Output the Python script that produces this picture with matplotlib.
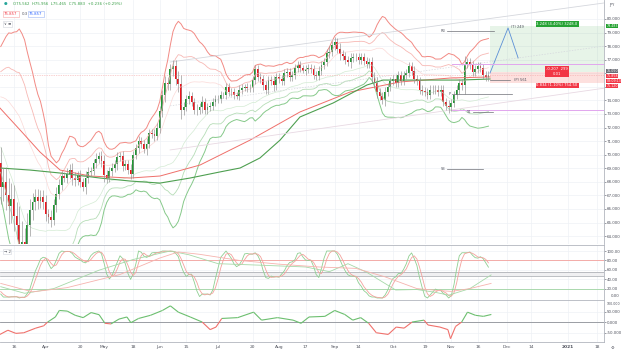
import numpy as np
import pandas as pd
import matplotlib.pyplot as plt
from matplotlib.collections import LineCollection
from matplotlib.patches import Rectangle

# AUD/JPY daily candles, 2020-03-09 .. 2020-11-20 (bar 0 = Mar 16)
# warm-up closes (Feb 7 - Mar 6), only used for the bands / stochastic
pre_closes = [73.6, 73.5, 73.9, 74.3, 74.1, 73.9, 73.9, 73.7, 74.3, 74.3,
              73.8, 72.6, 72.0, 72.1, 71.3, 70.3, 71.0, 70.9, 71.3, 69.4]

closes = (
    [67.6, 68.0, 67.0, 66.2, 66.7]                                       # Mar 9-13
    + [65.5, 64.8, 63.2, 63.6, 62.9, 64.8, 65.9, 66.5, 66.9, 66.6, 66.9, 66.5]  # Mar
    + [65.6, 65.4, 65.2, 66.3, 67.1, 67.8, 68.4, 68.3, 68.6, 68.9, 68.3,
       68.1, 68.5, 68.0, 67.6, 68.3, 68.7, 68.8, 69.4, 69.7, 69.9, 69.5]  # Apr
    + [68.5, 68.3, 68.8, 69.0, 69.3, 69.8, 69.9, 69.2, 69.3, 68.9, 68.6,
       70.0, 70.5, 71.0, 70.8, 70.4, 70.8, 71.6, 71.5, 71.4, 72.0]        # May
    + [73.2, 74.4, 75.3, 75.2, 76.3, 76.5, 75.6, 75.2, 73.3, 73.5, 74.1,
       74.3, 73.9, 73.3, 73.3, 73.5, 73.9, 73.3, 73.5, 73.6, 73.9, 74.1]  # Jun
    + [74.1, 74.4, 74.4, 75.0, 74.6, 74.6, 74.4, 74.3, 74.8, 74.9, 75.0, 74.9,
       74.9, 75.5, 76.3, 75.7, 75.6, 75.1, 74.8, 75.5, 75.4, 75.1, 75.7]  # Jul
    + [75.6, 75.4, 76.0, 76.1, 75.7, 75.9, 76.4, 76.6, 76.4, 76.2, 76.3,
       76.4, 76.3, 75.9, 75.8, 76.2, 76.6, 76.8, 77.5, 77.6, 78.1]        # Aug
    + [78.3, 77.8, 77.4, 77.3, 77.0, 76.8, 77.1, 77.2, 77.2, 77.0, 77.2,
       76.9, 76.7, 76.8, 75.7, 75.3, 74.6, 74.3, 74.0, 74.6, 75.0, 75.4]  # Sep
    + [75.6, 75.3, 75.9, 75.4, 75.9, 76.0, 76.5, 76.2, 75.6, 75.4, 74.8,
       74.7, 74.6, 74.4, 74.8, 74.8, 74.8, 74.6, 74.8, 73.9, 73.6, 73.5]  # Oct
    + [73.8, 74.4, 74.8, 75.3, 75.1, 76.7, 76.8, 76.6, 76.1, 76.3, 76.5,
       76.4, 75.9, 75.7, 75.86]                                           # Nov
)

wicks = (
    [1.2, 1.0, 1.1, 1.3, 1.2]
    + [1.1, 1.0, 1.4, 1.5, 1.0, 0.9, 0.8, 0.7, 0.6, 0.6, 0.5, 0.5]
    + [0.5, 0.4, 0.5, 0.4, 0.5, 0.4, 0.4, 0.3, 0.4, 0.4, 0.5, 0.4, 0.3, 0.4,
       0.3, 0.5, 0.4, 0.3, 0.3, 0.4, 0.3, 0.4]
    + [0.5, 0.4, 0.3, 0.4, 0.3, 0.4, 0.3, 0.4, 0.3, 0.3, 0.4, 0.3, 0.3, 0.4,
       0.3, 0.3, 0.4, 0.3, 0.3, 0.4, 0.3]
    + [0.4, 0.4, 0.5, 0.4, 0.4, 0.5, 0.5, 0.6, 0.7, 0.4, 0.3, 0.4, 0.3, 0.3,
       0.4, 0.3, 0.4, 0.3, 0.3, 0.3, 0.3, 0.3]
    + [0.3, 0.3, 0.2, 0.3, 0.3, 0.3, 0.3, 0.2, 0.3, 0.3, 0.2, 0.3, 0.3, 0.3,
       0.3, 0.3, 0.3, 0.3, 0.3, 0.3, 0.3, 0.4, 0.3]
    + [0.3, 0.3, 0.3, 0.3, 0.3, 0.3, 0.3, 0.3, 0.3, 0.2, 0.3, 0.3, 0.3, 0.3,
       0.3, 0.3, 0.3, 0.3, 0.3, 0.4, 0.3]
    + [0.4, 0.3, 0.4, 0.3, 0.3, 0.3, 0.4, 0.3, 0.3, 0.3, 0.3, 0.3, 0.3, 0.3,
       0.4, 0.4, 0.4, 0.3, 0.3, 0.4, 0.3, 0.3]
    + [0.3, 0.3, 0.3, 0.3, 0.3, 0.3, 0.3, 0.3, 0.3, 0.3, 0.3, 0.3, 0.3, 0.3,
       0.3, 0.3, 0.3, 0.3, 0.3, 0.3, 0.3, 0.4]
    + [0.3, 0.3, 0.3, 0.3, 0.3, 0.6, 0.3, 0.3, 0.3, 0.3, 0.3, 0.3, 0.3, 0.3, 0.3]
)

# long moving averages (bar index, price)
ma_red_x = [-5.3, 2.3, 9.8, 17.4, 28.7, 43.8, 55.1, 70.2, 89.1, 107.9, 126.8, 145.7, 164.5, 179.6]
ma_red_y = [73.44, 71.82, 70.2, 68.87, 68.43, 68.28, 68.43, 69.24, 71.08, 73.15, 74.62, 75.36, 75.65, 75.73]
ma_grn_x = [-5.3, 6.0, 17.4, 32.5, 43.8, 55.1, 66.4, 77.7, 85.3, 92.8, 100.4, 107.9,
            120.4, 133.2, 139.2, 153.2, 168.3, 179.6]
ma_grn_y = [69.02, 68.87, 68.65, 68.28, 68.06, 67.91, 68.28, 68.73, 69.02, 69.76, 71.08,
            72.78, 73.81, 75.14, 75.5, 75.5, 75.5, 75.58]

# slow stochastic pair
slow_k_x = [-5, 4, 15, 32, 45, 55, 59, 66, 77, 92, 110, 119, 126, 133, 144, 152, 159, 164, 172, 180]
slow_k_y = [24, 10, 20, 59, 82, 95, 100, 92, 73, 70, 66, 56, 73, 55, 17, 18, 12, 6, 20, 49]
slow_d_x = [-5, 7, 20, 40, 55, 62, 70, 85, 100, 115, 129, 140, 152, 160, 165, 172, 180]
slow_d_y = [31, 13, 22, 50, 85, 98, 93, 80, 72, 66, 63, 45, 20, 16, 14, 20, 31]

# momentum oscillator
mom_x = [-5.3, -2.3, 0.7, 3.7, 8.2, 11.2, 12.7, 15.6, 17.1, 20.1, 23.1, 26.1, 29.1, 32.1,
         34.3, 36.6, 39.6, 42.6, 44.1, 47.0, 51.5, 56.0, 59.0, 62.0, 66.5, 71.0, 74.0,
         76.2, 78.4, 84.4, 90.4, 93.4, 99.4, 105.3, 108.3, 111.3, 117.3, 121.0, 124.8,
         127.8, 130.8, 133.8, 136.7, 141.2, 144.2, 147.2, 150.2, 154.7, 156.2, 160.7,
         163.7, 164.7, 166.6, 168.9, 171.1, 174.1, 177.1, 180.1]
mom_y = [-59, -39, -54, -51, -29, -18, 0, 24, 55, 52, 32, 21, 45, 35, -6, -9, 14, 24, -3,
         17, 32, 55, 77, 47, 24, 0, -36, -24, 17, 21, 47, 9, 21, 9, -6, 24, 27, 55, 36, 9,
         21, -6, -51, -59, -24, -29, 0, 9, -14, -24, -36, -79, -21, 0, 47, 32, 27, 36]

tick_pos = [0, 12, 25, 34, 45, 55, 65, 77, 90, 100, 110, 121, 130, 143, 155, 165, 175,
            186, 195, 209, 220]
tick_lbl = ["16", "Apr", "20", "May", "18", "Jun", "15", "Jul", "20", "Aug", "17", "Sep",
            "14", "Oct", "19", "Nov", "16", "Dec", "14", "2021", "18"]

W, H = 621, 354
X0, X1 = -5.28, 222.6
GRID = "#eef1f6"
TXT = "#50535e"
FS = 2.9

fig = plt.figure(figsize=(W / 100, H / 100), dpi=100)
fig.patch.set_facecolor("white")

def box(top, bottom):
    return [0, 1 - bottom / H, 604 / W, (bottom - top) / H]

ax = fig.add_axes(box(0, 244))
ax2 = fig.add_axes(box(245, 300))
ax3 = fig.add_axes(box(300, 342))

allc = pd.Series(pre_closes + closes)
bars = np.arange(len(allc)) - len(pre_closes) - 5
vis = bars >= -5
x = bars[vis]
c = np.array(closes)
o = np.r_[pre_closes[-1], c[:-1]]
hi = np.maximum(o, c) + np.array(wicks)
lo = np.minimum(o, c) - np.array(wicks)

for a in (ax, ax2, ax3):
    a.set_xlim(X0, X1)
    a.set_facecolor("white")
    for s in ("left", "top", "bottom"):
        a.spines[s].set_visible(False)
    a.spines["right"].set_color("#b2b5be")
    a.spines["right"].set_linewidth(0.6)
    a.yaxis.tick_right()
    a.tick_params(axis="y", labelsize=FS, colors=TXT, length=1.2, width=0.4, pad=1.0)
    a.set_xticks(tick_pos)
    a.tick_params(axis="x", length=0)
    a.set_xticklabels([])
    a.grid(True, color=GRID, lw=0.5)
    a.set_axisbelow(True)

# ---------- main price panel ----------
ax.set_ylim(63.42, 81.4)
ax.set_yticks(range(64, 81))
# 75 and 76 sit under the coloured price tags
ax.set_yticklabels(["" if v in (75, 76) else f"{v:.3f}" for v in range(64, 81)])

# bollinger style bands
mid = allc.rolling(20).mean()
sd = allc.rolling(20).std(ddof=0)
for k, col, lw in [(3, "#f28a84", 0.7), (2, "#f7b8b4", 0.6), (1, "#fbd9d7", 0.5)]:
    ax.plot(x, (mid + k * sd)[vis], color=col, lw=lw)
for k, col, lw in [(3, "#86c98a", 0.7), (2, "#b6ddb7", 0.6), (1, "#d3ebd3", 0.5)]:
    ax.plot(x, (mid - k * sd)[vis], color=col, lw=lw)
ax.plot(ma_red_x, ma_red_y, color="#ef6f6a", lw=0.7)
ax.plot(ma_grn_x, ma_grn_y, color="#4e9f50", lw=0.8)

# channel lines
ax.plot([58.9, 222.6], [76.83, 81.18], color="#d5d7dd", lw=0.6)
ax.plot([58.9, 222.6], [70.35, 74.9], color="#e8d9e3", lw=0.6)
ax.plot([58.9, 222.6], [73.6, 78.0], color="#d5d7dd", lw=0.5, ls=(0, (2, 2)))

# last price line
ax.axhline(75.86, color="#f4a3a3", lw=0.5, ls=(0, (1, 1.5)))

# candles
up = c >= o
ax.vlines(x, lo, hi, color="#8f8f8f", lw=0.45)
ax.bar(x[up], (c - o)[up], bottom=o[up], width=0.7, color="#1e9a32", lw=0)
ax.bar(x[~up], (c - o)[~up], bottom=o[~up], width=0.7, color="#f5131c", lw=0)

# long position tool
ax.add_patch(Rectangle((179.6, 76.09), X1 - 179.6, 79.48 - 76.09, color="#4caf50", alpha=0.13, lw=0))
ax.add_patch(Rectangle((179.6, 75.28), X1 - 179.6, 76.09 - 75.28, color="#f44336", alpha=0.16, lw=0))
ax.plot([179.6, 186.4, 190.2], [76.02, 79.34, 77.13], color="#5b8fd6", lw=0.6)

# pivot style levels
ax.plot([165.3, X1], [76.68, 76.68], color="#e1a6ee", lw=0.7)
ax.plot([165.3, X1], [73.29, 73.29], color="#e1a6ee", lw=0.7)
for x0, x1, y, lab in [(163.4, 181.0, 79.12, "R3"), (165.3, 187.9, 74.47, "P"),
                       (173.2, 180.8, 73.15, "S1"), (163.4, 177.0, 68.95, "S3")]:
    ax.plot([x0, x1], [y, y], color="#6d6f76", lw=0.5)
    ax.text(x0 - 0.5, y, lab, fontsize=2.6, color=TXT, ha="right", va="center")
ax.plot([179.6, 187.2], [75.5, 75.5], color="#6d6f76", lw=0.5)
ax.text(188.5, 75.5, "(P) 561", fontsize=2.6, color=TXT, va="center")
ax.text(187.5, 79.38, "(T) 249", fontsize=2.6, color=TXT, va="center")

def tag(a, xx, yy, s, fc):
    a.text(xx, yy, s, fontsize=2.7, color="white", ha="center", va="center",
           bbox=dict(boxstyle="square,pad=0.25", fc=fc, ec="none"))

tag(ax, 204.9, 79.65, "3.248 (4.40%) 3248.0", "#26a334")
tag(ax, 204.9, 76.12, "-0.207  299\n0.01", "#f23645")
tag(ax, 204.9, 75.1, "0.834 (1.10%) 754.50", "#f23645")

# right-axis price tags
for yy, s, fc in [(79.48, "79.483", "#22a12f"), (76.17, "76.050", "#6b6e77"),
                  (75.80, "75.858", "#f23645"), (75.43, "08:09:13", "#f23645"),
                  (75.06, "75.120", "#f23645")]:
    ax.text(1.004, yy, s, transform=ax.get_yaxis_transform(), fontsize=2.3, color="white",
            va="center", ha="left", clip_on=False,
            bbox=dict(boxstyle="square,pad=0.12", fc=fc, ec="none"))

# ---------- stochastic panel ----------
ax2.set_ylim(-4.3, 112.8)
ax2.set_yticks([20, 40, 60, 80, 100])
ax2.set_yticklabels([f"{v:.2f}" for v in [20, 40, 60, 80, 100]])
ax2.text(1.012, 0, "0.00", transform=ax2.get_yaxis_transform(), fontsize=FS,
         color=TXT, va="bottom", ha="left")
ax2.axhline(80, color="#f4a09b", lw=0.6)
ax2.axhline(20, color="#9fd4a1", lw=0.6)
ax2.axhspan(46, 55, color="#f0f0f2", lw=0)
ax2.axhline(46, color="#a3a6ad", lw=0.5)
ax2.axhline(55, color="#a3a6ad", lw=0.5)
lo14 = allc.rolling(14).min()
hi14 = allc.rolling(14).max()
fast_k = (100 * (allc - lo14) / (hi14 - lo14)).rolling(3).mean()
fast_d = fast_k.rolling(3).mean()
ax2.plot(x, fast_k[vis], color="#8fcf92", lw=0.6)
ax2.plot(x, fast_d[vis], color="#f4a29d", lw=0.6)
ax2.plot(slow_k_x, slow_k_y, color="#a6d9a8", lw=0.6)
ax2.plot(slow_d_x, slow_d_y, color="#f6b3ae", lw=0.6)
ax2.text(0.006, 0.86, "\u2192 2", transform=ax2.transAxes, fontsize=2.8, color=TXT,
         bbox=dict(boxstyle="square,pad=0.2", fc="white", ec="#d1d4dc", lw=0.4))

# ---------- momentum panel ----------
ax3.set_ylim(-95, 104.8)
ax3.set_yticks([-50, 0, 50])
ax3.set_yticklabels([f"{v:.3f}" for v in [-50, 0, 50]])
ax3.text(1.005, 97, "100.000", transform=ax3.get_yaxis_transform(), fontsize=2.3,
         color=TXT, va="top", ha="left")
ax3.axhline(0, color="#8d9097", lw=0.6)
pts = np.column_stack([mom_x, mom_y])
segs = np.stack([pts[:-1], pts[1:]], axis=1)
cols = ["#6cbf6f" if (a + b) / 2 >= 0 else "#f0716c" for a, b in zip(mom_y[:-1], mom_y[1:])]
ax3.add_collection(LineCollection(segs, colors=cols, lw=0.8))

ax3.set_xticklabels(tick_lbl)
ax3.tick_params(axis="x", labelsize=FS + 0.3, colors=TXT, pad=2.5)
for lab in ax3.get_xticklabels():
    if lab.get_text() == "2021":
        lab.set_fontweight("bold")

# panel separators
for yy in (244.5, 300, 342):
    fig.add_artist(plt.Line2D([0, 604 / W], [1 - yy / H] * 2, color="#b2b5be", lw=0.6))

# header texts
fig.text(4 / W, 1 - 4 / H, "\u25cf", fontsize=3, color="#26a69a", va="center")
fig.text(13 / W, 1 - 4 / H, "O75.562  H75.956  L75.465  C75.883  +0.236 (+0.29%)",
         fontsize=2.8, color="#3a9f48", va="center")
fig.text(4 / W, 1 - 14 / H, "75.857", fontsize=2.8, color="#f23645", va="center",
         bbox=dict(boxstyle="square,pad=0.3", fc="white", ec="#f7a6a6", lw=0.4))
fig.text(22 / W, 1 - 14 / H, "0.3", fontsize=2.8, color=TXT, va="center")
fig.text(29 / W, 1 - 14 / H, "75.857", fontsize=2.8, color="#2962ff", va="center",
         bbox=dict(boxstyle="square,pad=0.3", fc="white", ec="#9db7f5", lw=0.4))
fig.text(4 / W, 1 - 24 / H, "\u2228 \u2261", fontsize=2.8, color=TXT, va="center",
         bbox=dict(boxstyle="square,pad=0.2", fc="white", ec="#d1d4dc", lw=0.4))
fig.text(609 / W, 1 - 5 / H, "JPY", fontsize=2.6, color=TXT, va="center")
fig.text(612 / W, 1 - 348 / H, "\u2699", fontsize=3, color=TXT, va="center", ha="center")

fig.savefig("out.png", dpi=100, facecolor="white")
